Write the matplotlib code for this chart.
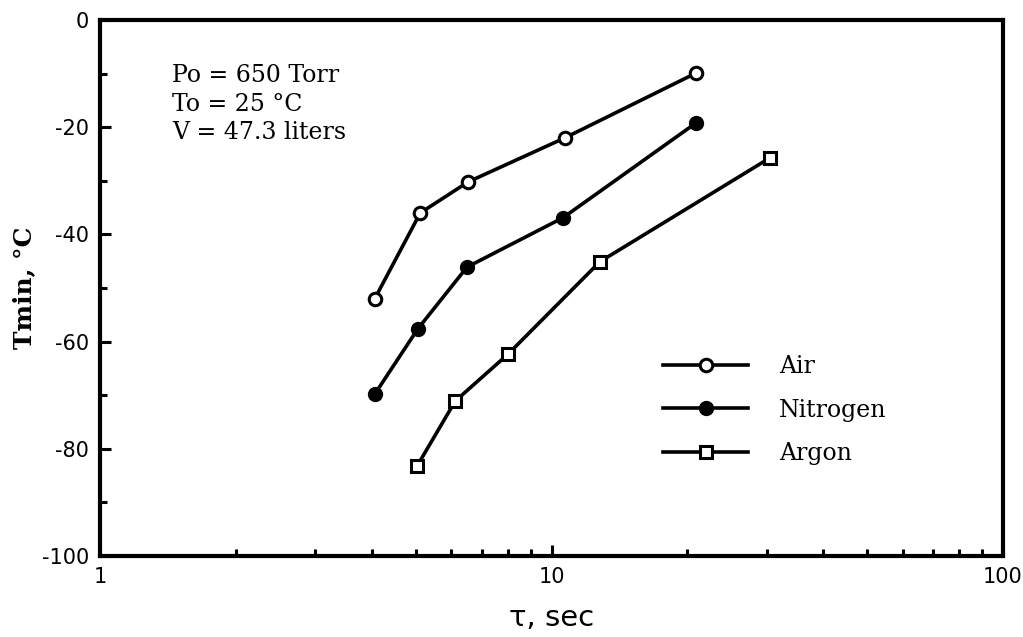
import matplotlib
matplotlib.use("Agg")
import matplotlib.pyplot as plt
from matplotlib.ticker import LogLocator, MultipleLocator, FixedLocator, FixedFormatter, NullFormatter

# Residence time tau (s) and minimum temperature (deg C) for each gas
air_tau = [4.06, 5.12, 6.54, 10.7, 20.9]
air_tmin = [-52.0, -36.0, -30.2, -22.0, -9.9]

n2_tau = [4.06, 5.06, 6.50, 10.6, 20.9]
n2_tmin = [-69.8, -57.6, -46.1, -36.9, -19.2]

ar_tau = [5.04, 6.12, 8.02, 12.8, 30.5]
ar_tmin = [-83.2, -71.1, -62.3, -45.1, -25.7]

series_labels = ["Air", "Nitrogen", "Argon"]
x_ticks = [1, 10, 100]
x_tick_labels = ["1", "10", "100"]
y_ticks = [0, -20, -40, -60, -80, -100]
y_tick_labels = ["0", "-20", "-40", "-60", "-80", "-100"]
conditions = ["Po = 650 Torr", "To = 25 \u00b0C", "V = 47.3 liters"]

fig = plt.figure(figsize=(10.23, 6.37), dpi=100)
ax = fig.add_axes([100 / 1023, (637 - 556) / 637, 903 / 1023, 536 / 637])

serif = "DejaVu Serif"
sans = "DejaVu Sans"
lw = 2.6

ax.plot(air_tau, air_tmin, "-o", color="black", lw=lw, ms=9,
        mfc="white", mec="black", mew=2.2, label=series_labels[0])
ax.plot(n2_tau, n2_tmin, "-o", color="black", lw=lw, ms=10,
        mfc="black", mec="black", label=series_labels[1])
ax.plot(ar_tau, ar_tmin, "-s", color="black", lw=lw, ms=9,
        mfc="white", mec="black", mew=2.2, label=series_labels[2])

ax.set_xscale("log")
ax.set_xlim(1, 100)
ax.set_ylim(-100, 0)

ax.xaxis.set_major_locator(FixedLocator(x_ticks))
ax.xaxis.set_major_formatter(FixedFormatter(x_tick_labels))
ax.xaxis.set_minor_locator(LogLocator(base=10, subs=range(2, 10)))
ax.xaxis.set_minor_formatter(NullFormatter())
ax.yaxis.set_major_locator(FixedLocator(y_ticks))
ax.yaxis.set_major_formatter(FixedFormatter(y_tick_labels))
ax.yaxis.set_minor_locator(MultipleLocator(10))

ax.tick_params(which="both", direction="in", width=2.2, top=False, right=False)
ax.tick_params(which="major", length=8, labelsize=15, pad=8)
ax.tick_params(which="minor", length=5)
for lab in ax.get_xticklabels() + ax.get_yticklabels():
    lab.set_fontfamily(sans)

for sp in ax.spines.values():
    sp.set_linewidth(3)

ax.set_xlabel("\u03c4, sec", fontsize=21, family=sans, labelpad=12)
ax.set_ylabel("Tmin, \u00b0C", fontsize=18, family=serif, fontweight="bold", labelpad=4)

ax.text(0.08, 0.917, "\n".join(conditions), transform=ax.transAxes,
        fontsize=17, family=serif, va="top", ha="left", linespacing=1.3)

leg = ax.legend(loc="center left", bbox_to_anchor=(0.6, 0.272), frameon=False,
                prop={"family": serif, "size": 17}, handlelength=3.6,
                labelspacing=0.87, handletextpad=1.3)

fig.savefig("out.png", dpi=100, facecolor="white")
